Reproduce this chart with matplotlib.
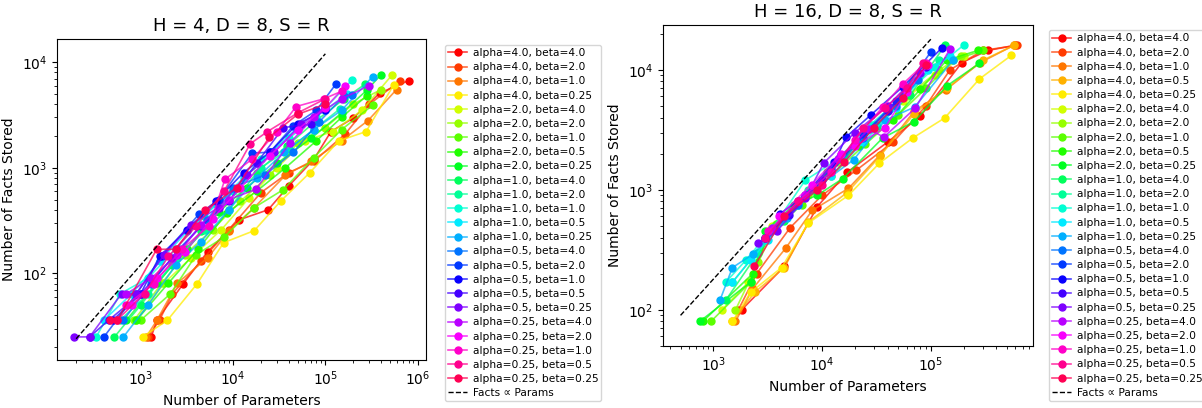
import numpy as np
import matplotlib
matplotlib.use('Agg')
import matplotlib.pyplot as plt

# all (alpha, beta) combos, in legend order
alphas = [4.0, 4.0, 4.0, 4.0, 4.0, 2.0, 2.0, 2.0, 2.0, 2.0, 1.0, 1.0, 1.0, 1.0, 1.0,
          0.5, 0.5, 0.5, 0.5, 0.5, 0.25, 0.25, 0.25, 0.25, 0.25]
betas = [4.0, 2.0, 1.0, 0.5, 0.25] * 5

# H = 4 panel: run alpha=4.0, beta=0.5 is missing
left_idx = [0, 1, 2, 4, 5, 6, 7, 8, 9, 10, 11, 12, 13, 14, 15, 16, 17, 18, 19, 20, 21, 22, 23, 24]
left_params = [
    [1300, 1500, 2900, 5300, 11500, 24000, 40000, 75000, 115000, 200000, 390000, 800000],
    [1200, 1600, 2200, 4500, 9000, 20000, 40000, 75000, 165000, 300000, 650000],
    [1150, 1500, 2500, 5300, 9000, 17000, 37000, 70000, 150000, 290000, 590000],
    [1050, 1950, 4100, 7900, 17000, 33000, 68000, 140000, 276000, 550000],
    [900, 1800, 3500, 7500, 15000, 30000, 60000, 120000, 250000, 530000],
    [850, 1700, 3000, 6000, 12000, 25000, 50000, 100000, 200000, 400000],
    [1000, 2100, 4000, 8000, 17000, 35000, 75000, 150000, 330000],
    [900, 2000, 4200, 8500, 18000, 37000, 80000, 150000, 280000],
    [700, 1500, 3200, 7000, 14000, 30000, 70000, 150000, 280000, 400000],
    [520, 1000, 2200, 4500, 9000, 18000, 38000, 80000, 160000, 270000],
    [600, 1200, 2500, 5000, 10000, 20000, 40000, 75000, 145000],
    [330, 600, 1200, 2400, 4800, 10000, 20000, 40000, 80000, 195000],
    [400, 800, 1600, 3200, 6500, 13000, 26000, 50000, 100000, 170000],
    [650, 1200, 2400, 4500, 9000, 18000, 36000, 75000, 150000, 325000],
    [650, 1300, 2600, 5200, 10000, 22000, 45000, 85000, 160000, 195000],
    [400, 900, 1700, 4270, 7000, 16200, 25000, 45000, 80000, 130000],
    [500, 1000, 1600, 3200, 6500, 13000, 25000, 50000, 100000],
    [280, 450, 1000, 2200, 4500, 9000, 18000, 35000, 70000, 100000],
    [190, 280, 620, 890, 1800, 3500, 7000, 14000, 28000, 55000, 100000],
    [700, 1300, 2500, 4500, 9000, 17700, 41600, 75000, 150000, 300000],
    [800, 1500, 3000, 6000, 12000, 25000, 50000, 100000, 163000],
    [700, 1400, 2800, 5500, 8200, 16000, 30000, 48300, 96500, 150000],
    [550, 1100, 2000, 4000, 8000, 15400, 23600, 50000, 100000],
    [470, 560, 1490, 2390, 5000, 11000, 24700, 50000, 100000],
]
left_facts = [
    [25, 36, 80, 160, 320, 400, 670, 1200, 2200, 2950, 5100, 6700],
    [25, 36, 64, 130, 260, 580, 900, 1150, 2100, 4000, 6700],
    [25, 36, 81, 140, 250, 420, 850, 1150, 1800, 2800, 5500],
    [25, 36, 80, 195, 254, 485, 900, 1800, 2200, 6100],
    [36, 81, 140, 260, 520, 1000, 1800, 2200, 3500, 7600],
    [36, 81, 150, 260, 480, 850, 1700, 2400, 4000, 5500],
    [36, 64, 150, 220, 420, 620, 1250, 2300, 3950],
    [36, 81, 170, 370, 600, 1000, 1800, 3000, 4800],
    [36, 81, 170, 380, 650, 1100, 1900, 3300, 5400, 7600],
    [25, 50, 120, 250, 400, 900, 1600, 2800, 4500, 6200],
    [36, 64, 140, 260, 600, 1000, 1500, 2300, 3630],
    [25, 64, 90, 170, 350, 600, 1200, 1900, 3000, 6800],
    [36, 64, 130, 250, 450, 800, 1400, 2400, 3500, 5000],
    [25, 50, 120, 200, 400, 800, 1400, 2300, 3500, 7300],
    [36, 80, 170, 320, 650, 850, 1400, 2700, 4800, 4900],
    [25, 64, 145, 362, 500, 1380, 1400, 2500, 3500, 6200],
    [36, 64, 145, 260, 480, 900, 1400, 2600, 3500],
    [25, 36, 64, 140, 280, 480, 1100, 2400, 2600, 3800],
    [25, 25, 64, 64, 150, 290, 420, 850, 1400, 2600, 3800],
    [64, 90, 150, 290, 500, 624, 1730, 3000, 4500, 6000],
    [50, 90, 160, 330, 640, 1300, 2300, 3700, 5900],
    [50, 80, 170, 280, 780, 1200, 2200, 3800, 4500, 5300],
    [36, 64, 145, 280, 600, 1690, 2200, 3300, 4500],
    [36, 36, 169, 169, 400, 650, 1950, 3200, 4000],
]

# H = 16 panel: all 25 runs
right_params = [
    [1820, 4500, 9060, 17000, 40000, 80000, 193000, 333000, 595000],
    [1700, 2500, 5100, 10000, 20500, 45000, 90000, 150000, 300000, 620000],
    [1600, 2300, 4640, 8100, 17500, 34000, 70000, 137000, 285000, 580000],
    [1500, 2400, 4500, 7500, 17000, 34000, 70000, 140000, 300000, 580000],
    [1500, 2200, 4250, 7500, 17500, 33700, 68000, 134000, 280000, 550000],
    [1200, 2100, 3500, 7000, 14000, 28000, 55000, 110000, 200000],
    [1600, 2600, 3800, 7500, 15000, 30000, 60000, 120000, 190000],
    [950, 2200, 3200, 6500, 12000, 25000, 50000, 90000, 160000, 300000],
    [800, 2300, 3300, 6000, 11000, 22000, 45000, 80000, 140000, 270000],
    [750, 2200, 3000, 5500, 9000, 15500, 36000, 70000, 142000, 278000],
    [1300, 2600, 4500, 8000, 16000, 32000, 65000, 135000],
    [1500, 2500, 4200, 7500, 15000, 30000, 60000, 120000],
    [1300, 2000, 3500, 7000, 14000, 28000, 55000, 110000, 200000],
    [1500, 2200, 3200, 6000, 12000, 24000, 48000, 95000, 150000],
    [1150, 1500, 2300, 4800, 9500, 19500, 38000, 71000, 160000],
    [3000, 6000, 12000, 24000, 48000, 77000],
    [3000, 6000, 12000, 24000, 48000, 99500],
    [4100, 7000, 13000, 16600, 28000, 55000, 126000],
    [3000, 5000, 10000, 20000, 40000, 90000],
    [2600, 3830, 7000, 10400, 20000, 40000, 80000],
    [3500, 7000, 14000, 27000, 37000, 72000, 150000],
    [4000, 8000, 15000, 20000, 38000, 60000, 95000],
    [3200, 6000, 12000, 20000, 36000, 55000, 90000],
    [3000, 6000, 10000, 24000, 38000, 60000, 85000],
    [2370, 4500, 9000, 16000, 30000, 55000, 90000],
]
right_facts = [
    [100, 230, 726, 1400, 2500, 4100, 11500, 14500, 16000],
    [100, 200, 485, 900, 1450, 2500, 5000, 10000, 14500, 16000],
    [80, 150, 327, 673, 1030, 1950, 4500, 6800, 11500, 16000],
    [80, 140, 225, 540, 950, 1900, 4300, 7000, 12000, 16000],
    [80, 140, 225, 530, 900, 1670, 2700, 3970, 8400, 13200],
    [100, 170, 500, 900, 1700, 3200, 5500, 9000, 13000],
    [100, 250, 520, 900, 1800, 3300, 6000, 10000, 13000],
    [80, 170, 420, 750, 1300, 2400, 4200, 7000, 12000, 14500],
    [80, 200, 450, 800, 1400, 2300, 3800, 6900, 12000, 14500],
    [80, 170, 450, 750, 900, 1240, 2700, 3700, 7400, 11300],
    [120, 300, 550, 1000, 1900, 3400, 6200, 16000],
    [170, 300, 550, 1000, 1900, 3500, 6500, 12000],
    [170, 260, 480, 1200, 1800, 3500, 6000, 10500, 16000],
    [170, 260, 380, 750, 1300, 2500, 4800, 10000, 13000],
    [120, 225, 290, 580, 1100, 1780, 3800, 4900, 12000],
    [400, 750, 1400, 2700, 5000, 8300],
    [400, 800, 1500, 2900, 5500, 14000],
    [630, 900, 1700, 2750, 4200, 7200, 15200],
    [400, 620, 1200, 2400, 4500, 10500],
    [360, 450, 850, 1680, 3000, 5000, 9500],
    [480, 900, 1800, 3200, 2750, 4800, 14900],
    [600, 1100, 2000, 2300, 3300, 6500, 11000],
    [450, 800, 1400, 2600, 4900, 7600, 11500],
    [400, 800, 1100, 3300, 4800, 7000, 11500],
    [230, 600, 1000, 1700, 3300, 5800, 11000],
]

# reference line Facts = k * Params
left_ref_x = [200, 100000]
left_ref_k = 0.12
right_ref_x = [500, 100000]
right_ref_k = 0.18

colors = plt.cm.hsv(np.arange(25) / 25.0)

fig = plt.figure(figsize=(12.02, 4.08), dpi=100)
ax1 = fig.add_axes([0.0474, 0.1176, 0.307, 0.787])
ax2 = fig.add_axes([0.5516, 0.152, 0.3078, 0.787])


def draw_panel(ax, idx, params, facts, ref_x, ref_k, title, xlim, ylim):
    for i, px, fy in zip(idx, params, facts):
        c = colors[i]
        ax.plot(px, fy, '-', color=(c[0], c[1], c[2], 0.75), lw=1.2,
                marker='o', ms=5, mfc=c, mec=c,
                label='alpha={}, beta={}'.format(alphas[i], betas[i]))
    rx = np.array(ref_x, dtype=float)
    ax.plot(rx, ref_k * rx, '--', color='black', lw=1.0, label='Facts \u221d Params')
    ax.set_xscale('log')
    ax.set_yscale('log')
    ax.set_xlim(*xlim)
    ax.set_ylim(*ylim)
    ax.set_title(title, fontsize=13)
    ax.set_xlabel('Number of Parameters', fontsize=10)
    ax.set_ylabel('Number of Facts Stored', fontsize=10)
    ax.tick_params(labelsize=10)


draw_panel(ax1, left_idx, left_params, left_facts, left_ref_x, left_ref_k,
           'H = 4, D = 8, S = R', (124, 1.23e6), (15.1, 16600))
draw_panel(ax2, list(range(25)), right_params, right_facts, right_ref_x, right_ref_k,
           'H = 16, D = 8, S = R', (345, 8.7e5), (50, 23700))

leg_kw = dict(loc='upper left', bbox_transform=fig.transFigure, fontsize=7.7,
              borderaxespad=0, borderpad=0.3, labelspacing=0.39,
              handlelength=1.8, handletextpad=0.5)
ax1.legend(bbox_to_anchor=(0.370, 0.89), **leg_kw)
ax2.legend(bbox_to_anchor=(0.8725, 0.926), **leg_kw)

fig.savefig('out.png', dpi=100)
